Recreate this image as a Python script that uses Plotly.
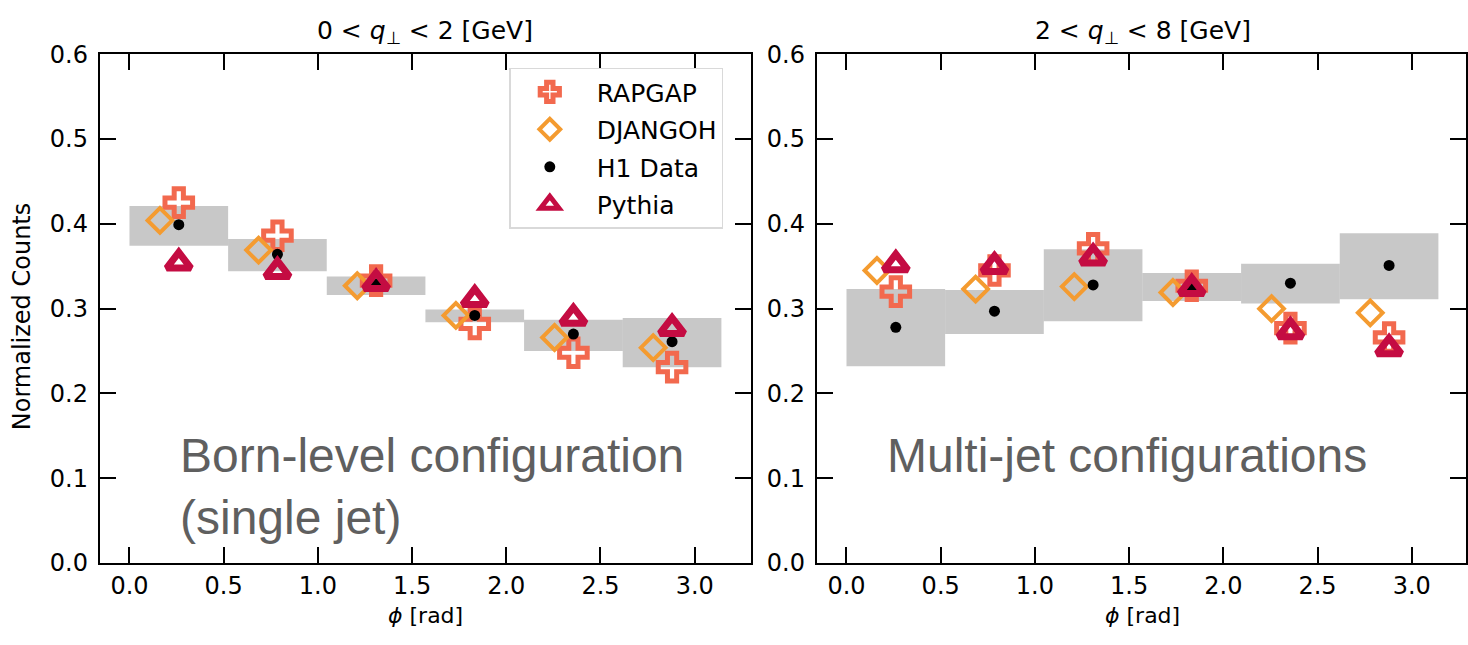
import numpy as np
import plotly.graph_objects as go

# phi bins: six equal bins between 0 and pi
bin_edges = np.linspace(0, np.pi, 7)
bin_centers = 0.5 * (bin_edges[:-1] + bin_edges[1:])
bin_width = bin_edges[1] - bin_edges[0]
djangoh_shift = -0.10  # DJANGOH points drawn slightly left of the bin centre

# --- 0 < q_perp < 2 GeV ---
h1_low = [0.399, 0.364, 0.329, 0.292, 0.270, 0.261]
sys_low_lo = [0.374, 0.344, 0.316, 0.284, 0.250, 0.231]
sys_low_hi = [0.421, 0.382, 0.338, 0.299, 0.287, 0.289]
rapgap_low = [0.425, 0.386, 0.333, 0.282, 0.248, 0.231]
djangoh_low = [0.404, 0.369, 0.327, 0.292, 0.266, 0.254]
pythia_low = [0.354, 0.344, 0.330, 0.311, 0.289, 0.277]

# --- 2 < q_perp < 8 GeV ---
h1_high = [0.278, 0.297, 0.328, 0.324, 0.330, 0.351]
sys_high_lo = [0.232, 0.270, 0.285, 0.309, 0.306, 0.311]
sys_high_hi = [0.323, 0.322, 0.370, 0.342, 0.353, 0.389]
rapgap_high = [0.320, 0.345, 0.371, 0.327, 0.277, 0.266]
djangoh_high = [0.345, 0.323, 0.326, 0.319, 0.300, 0.295]
pythia_high = [0.352, 0.350, 0.360, 0.324, 0.273, 0.253]

x_ticks = [0.0, 0.5, 1.0, 1.5, 2.0, 2.5, 3.0]
y_ticks = [0.0, 0.1, 0.2, 0.3, 0.4, 0.5, 0.6]

panel_titles = ["0 &lt; <i>q</i><sub>⊥</sub> &lt; 2 [GeV]",
                "2 &lt; <i>q</i><sub>⊥</sub> &lt; 8 [GeV]"]
panel_notes = ["Born-level configuration<br>(single jet)",
               "Multi-jet configurations"]

C_RAPGAP = "#F2694E"
C_DJANGOH = "#F49B30"
C_PYTHIA = "#C40C42"
C_BAND = "rgba(140,140,140,0.48)"

FONT = "DejaVu Sans, sans-serif"
NOTE_FONT = "Liberation Sans, Arial, sans-serif"
PAD = "\u00a0"  # small gap between legend symbol and its label


def label(name):
    return PAD + name


fig = go.Figure()

panels = [
    ("x", "y", h1_low, sys_low_lo, sys_low_hi, rapgap_low, djangoh_low, pythia_low),
    ("x2", "y2", h1_high, sys_high_lo, sys_high_hi, rapgap_high, djangoh_high, pythia_high),
]

for i, (xa, ya, h1, lo, hi, rap, dja, pyt) in enumerate(panels):
    first = i == 0
    # systematic uncertainty bands
    fig.add_trace(go.Bar(
        x=bin_centers, base=lo, y=np.array(hi) - np.array(lo), width=bin_width,
        marker=dict(color=C_BAND, line=dict(width=0)),
        showlegend=False, xaxis=xa, yaxis=ya, hoverinfo="skip",
    ))
    fig.add_trace(go.Scatter(
        x=bin_centers, y=rap, mode="markers", name=label("RAPGAP"),
        legendgroup="rapgap", showlegend=first,
        marker=dict(symbol="cross-open", size=23, color=C_RAPGAP,
                    line=dict(width=5, color=C_RAPGAP)),
        xaxis=xa, yaxis=ya,
    ))
    fig.add_trace(go.Scatter(
        x=bin_centers + djangoh_shift, y=dja, mode="markers", name=label("DJANGOH"),
        legendgroup="djangoh", showlegend=first,
        marker=dict(symbol="diamond-open", size=19, color=C_DJANGOH,
                    line=dict(width=4, color=C_DJANGOH)),
        xaxis=xa, yaxis=ya,
    ))
    fig.add_trace(go.Scatter(
        x=bin_centers, y=h1, mode="markers", name=label("H1 Data"),
        legendgroup="h1", showlegend=first,
        marker=dict(symbol="circle", size=11, color="black"),
        xaxis=xa, yaxis=ya,
    ))
    fig.add_trace(go.Scatter(
        x=bin_centers, y=pyt, mode="markers", name=label("Pythia"),
        legendgroup="pythia", showlegend=first,
        marker=dict(symbol="triangle-up-open", size=21, color=C_PYTHIA,
                    line=dict(width=7, color=C_PYTHIA)),
        xaxis=xa, yaxis=ya,
    ))

W, H = 1468, 645
y_dom = [(H - 574) / H, (H - 42) / H]
left_dom = [100 / W, 752 / W]
right_dom = [818 / W, 1.0]
px_per_rad = (752 - 100) / (np.pi * 1.1)
x0 = -0.05 * np.pi
right_hi = x0 + (W - 818) / px_per_rad

axis_common = dict(
    showline=True, linewidth=2.2, linecolor="black", mirror="ticks",
    ticks="inside", ticklen=16, tickwidth=2, tickcolor="black",
    showgrid=False, zeroline=False,
    tickfont=dict(family=FONT, size=24, color="black"),
)

fig.update_layout(
    width=W, height=H,
    margin=dict(l=0, r=0, t=0, b=0),
    plot_bgcolor="white", paper_bgcolor="white",
    barmode="overlay",
    xaxis=dict(domain=left_dom, range=[x0, np.pi * 1.05], anchor="y",
               tickvals=x_ticks, tickformat=".1f", **axis_common),
    yaxis=dict(domain=y_dom, range=[0, 0.6], anchor="x",
               tickvals=y_ticks, tickformat=".1f", ticklabelstandoff=5,
               **axis_common),
    xaxis2=dict(domain=right_dom, range=[x0, right_hi], anchor="y2",
                tickvals=x_ticks, tickformat=".1f", **axis_common),
    yaxis2=dict(domain=y_dom, range=[0, 0.6], anchor="x2",
                tickvals=y_ticks, tickformat=".1f", ticklabelstandoff=5,
                **axis_common),
    legend=dict(
        x=510 / W, y=1 - 56 / H, xanchor="left", yanchor="top",
        bgcolor="white", bordercolor="#d9d9d9", borderwidth=1.5,
        font=dict(family=FONT, size=25, color="black"),
        traceorder="grouped", tracegroupgap=2, itemsizing="trace",
        itemwidth=68,
    ),
    showlegend=True,
)

annotations = []
for k, dom in enumerate([left_dom, [818 / W, 1471 / W]]):
    cx = 0.5 * (dom[0] + dom[1])
    annotations.append(dict(
        text=panel_titles[k], x=cx, y=1 - 19 / H, xref="paper", yref="paper",
        xanchor="center", yanchor="middle", showarrow=False,
        font=dict(family=FONT, size=25, color="black"),
    ))
    annotations.append(dict(
        text="<i>ϕ</i> [rad]", x=cx, y=(H - 629) / H, xref="paper", yref="paper",
        xanchor="center", yanchor="middle", showarrow=False,
        font=dict(family=FONT, size=22, color="black"),
    ))
annotations.append(dict(
    text="Normalized Counts", x=22 / W, y=(H - 316) / H,
    xref="paper", yref="paper", textangle=-90, showarrow=False,
    xanchor="center", yanchor="middle",
    font=dict(family=FONT, size=24, color="black"),
))
annotations.append(dict(
    text=panel_notes[0], x=178 / W, y=1 - 432 / H, xref="paper", yref="paper",
    xanchor="left", yanchor="top", align="left", showarrow=False,
    font=dict(family=NOTE_FONT, size=48, color="#5f5f5f"),
))
annotations.append(dict(
    text=panel_notes[1], x=886 / W, y=1 - 432 / H, xref="paper", yref="paper",
    xanchor="left", yanchor="top", align="left", showarrow=False,
    font=dict(family=NOTE_FONT, size=48, color="#5f5f5f"),
))
fig.update_layout(annotations=annotations)

fig.write_html("out.html")
